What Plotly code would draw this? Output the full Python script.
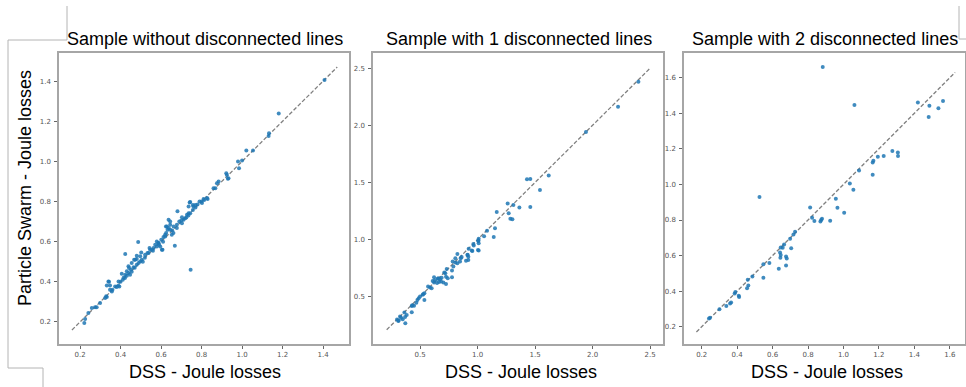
import plotly.graph_objects as go

W, H = 966, 387

# panel titles and axis labels
titles = ["Sample without disconnected lines", "Sample with 1 disconnected lines", "Sample with 2 disconnected lines"]
x_label = "DSS - Joule losses"
y_label = "Particle Swarm - Joule losses"

# sample without disconnected lines
dss_0 = [1.407, 1.181, 1.133, 1.131, 1.054, 1.021, 1.0, 0.98, 0.985, 0.922, 0.93, 0.884, 0.876, 0.859, 0.83,
         0.81, 0.79, 0.78, 0.744, 0.757, 0.736, 0.736, 0.728, 0.703, 0.711, 0.681, 0.678, 0.662, 0.645, 0.637,
         0.624, 0.62, 0.612, 0.601, 0.587, 0.579, 0.563, 0.546, 0.538, 0.668, 0.746, 0.607, 0.487, 0.423, 0.497,
         0.48, 0.472, 0.455, 0.439, 0.431, 0.423, 0.406, 0.411, 0.39, 0.373, 0.348, 0.34, 0.332, 0.329, 0.299,
         0.282, 0.258, 0.241, 0.225, 0.221,
         0.274, 0.324, 0.332, 0.348, 0.357, 0.343, 0.389, 0.381, 0.394, 0.422, 0.431, 0.439, 0.447, 0.442, 0.451,
         0.464, 0.467, 0.48, 0.489, 0.497, 0.505, 0.48, 0.502, 0.521, 0.533, 0.555, 0.543, 0.571, 0.587, 0.596,
         0.604, 0.579, 0.62, 0.625, 0.632, 0.638, 0.645, 0.645, 0.629, 0.653, 0.661, 0.678, 0.703, 0.719, 0.741,
         0.744, 0.757, 0.76, 0.769, 0.802, 0.813, 0.827, 0.868, 0.933, 0.925,
         0.36, 0.40, 0.415, 0.455, 0.47, 0.51, 0.52, 0.56, 0.59, 0.61, 0.655, 0.69, 0.70, 0.725, 0.735, 0.77, 0.80]
pso_0 = [1.405, 1.239, 1.14, 1.127, 1.054, 1.054, 1.004, 0.999, 0.966, 0.941, 0.913, 0.9, 0.891, 0.866, 0.812,
         0.812, 0.8, 0.785, 0.797, 0.783, 0.775, 0.742, 0.734, 0.722, 0.709, 0.752, 0.684, 0.676, 0.659, 0.709,
         0.676, 0.634, 0.623, 0.609, 0.593, 0.576, 0.568, 0.56, 0.543, 0.58, 0.46, 0.56, 0.598, 0.538, 0.527,
         0.513, 0.51, 0.493, 0.477, 0.452, 0.435, 0.44, 0.41, 0.402, 0.377, 0.381, 0.402, 0.382, 0.328, 0.294,
         0.273, 0.27, 0.245, 0.215, 0.195,
         0.273, 0.319, 0.324, 0.36, 0.352, 0.4, 0.38, 0.374, 0.377, 0.419, 0.43, 0.444, 0.435, 0.469, 0.46,
         0.473, 0.51, 0.485, 0.493, 0.501, 0.51, 0.53, 0.546, 0.535, 0.543, 0.56, 0.568, 0.584, 0.593, 0.576,
         0.56, 0.601, 0.626, 0.643, 0.659, 0.668, 0.684, 0.7, 0.675, 0.634, 0.643, 0.668, 0.692, 0.717, 0.795,
         0.742, 0.758, 0.775, 0.783, 0.792, 0.808, 0.817, 0.866, 0.916, 0.932,
         0.36, 0.40, 0.42, 0.45, 0.47, 0.50, 0.52, 0.555, 0.585, 0.60, 0.655, 0.70, 0.705, 0.72, 0.73, 0.77, 0.80]

# sample with 1 disconnected line
dss_1 = [2.399, 2.222, 1.943, 1.619, 1.459, 1.43, 1.543, 1.459, 1.364, 1.167, 1.262, 1.312, 1.271, 1.286, 1.303,
         1.152, 1.141, 1.083, 1.057, 1.01, 1.007, 1.01, 1.004, 1.01, 0.967, 0.955, 0.923, 0.912, 0.92, 0.92,
         0.9, 0.854, 0.848, 0.825, 0.825, 0.807, 0.807, 0.784, 0.79, 0.778, 0.778, 0.732, 0.72, 0.726, 0.703,
         0.726, 0.688, 0.674, 0.665, 0.654, 0.648, 0.63, 0.622, 0.61, 0.622, 0.601, 0.57, 0.538, 0.523, 0.538,
         0.5, 0.488, 0.477, 0.468, 0.448, 0.428, 0.428, 0.384, 0.37, 0.364, 0.372, 0.349, 0.326, 0.314, 0.3,
         0.311, 0.335, 0.433, 0.529, 0.587, 0.659, 0.683, 0.711, 0.741, 0.862, 0.914, 0.95, 0.964, 1.007]
pso_1 = [2.383, 2.164, 1.942, 1.56, 1.531, 1.528, 1.434, 1.285, 1.28, 1.242, 1.315, 1.303, 1.23, 1.183, 1.177,
         1.099, 1.023, 1.078, 1.028, 1.008, 0.988, 0.967, 0.909, 0.903, 0.947, 0.9, 0.92, 0.865, 0.85, 0.82,
         0.815, 0.836, 0.807, 0.874, 0.792, 0.798, 0.836, 0.807, 0.763, 0.728, 0.669, 0.743, 0.704, 0.675, 0.623,
         0.611, 0.666, 0.652, 0.629, 0.657, 0.62, 0.644, 0.623, 0.637, 0.669, 0.573, 0.588, 0.529, 0.517, 0.471,
         0.5, 0.486, 0.471, 0.447, 0.421, 0.418, 0.363, 0.339, 0.322, 0.36, 0.266, 0.301, 0.325, 0.29, 0.3,
         0.287, 0.316, 0.425, 0.524, 0.579, 0.661, 0.632, 0.711, 0.661, 0.846, 0.866, 0.904, 0.96, 0.991]

# sample with 2 disconnected lines
dss_2 = [0.883, 1.062, 1.42, 1.485, 1.562, 1.536, 1.481, 1.276, 1.307, 1.308, 1.227, 1.194, 1.169, 1.165, 1.165,
         1.088, 1.036, 1.056, 0.957, 0.966, 1.004, 0.925, 0.812, 0.823, 0.836, 0.874, 0.879, 0.87, 0.526, 0.727,
         0.718, 0.699, 0.705, 0.665, 0.657, 0.646, 0.642, 0.646, 0.644, 0.676, 0.68, 0.676, 0.635, 0.582, 0.548,
         0.548, 0.486, 0.46, 0.463, 0.456, 0.39, 0.386, 0.409, 0.411, 0.366, 0.36, 0.339, 0.3, 0.247, 0.241]
pso_2 = [1.66, 1.446, 1.461, 1.443, 1.469, 1.429, 1.379, 1.188, 1.18, 1.16, 1.16, 1.156, 1.133, 1.124, 1.055,
         1.079, 1.006, 0.97, 0.92, 0.869, 0.841, 0.796, 0.871, 0.813, 0.794, 0.8, 0.807, 0.792, 0.929, 0.734,
         0.719, 0.695, 0.642, 0.663, 0.644, 0.646, 0.618, 0.603, 0.588, 0.595, 0.584, 0.545, 0.526, 0.558, 0.551,
         0.476, 0.483, 0.464, 0.432, 0.416, 0.395, 0.387, 0.374, 0.367, 0.337, 0.331, 0.316, 0.298, 0.251, 0.247]

# y = x reference segments
diag_0 = [0.16, 1.47]
diag_1 = [0.21, 2.5]
diag_2 = [0.17, 1.63]

panels = [(dss_0, pso_0, diag_0), (dss_1, pso_1, diag_1), (dss_2, pso_2, diag_2)]
x_ranges = [[0.096, 1.528], [0.091, 2.613], [0.10, 1.686]]
y_ranges = [[0.09, 1.54], [0.085, 2.634], [0.103, 1.739]]
x_ticks = [[0.2, 0.4, 0.6, 0.8, 1.0, 1.2, 1.4], [0.5, 1.0, 1.5, 2.0, 2.5], [0.2, 0.4, 0.6, 0.8, 1.0, 1.2, 1.4, 1.6]]
y_ticks = [[0.2, 0.4, 0.6, 0.8, 1.0, 1.2, 1.4], [0.5, 1.0, 1.5, 2.0, 2.5], [0.2, 0.4, 0.6, 0.8, 1.0, 1.2, 1.4, 1.6]]

# pixel boxes of the three plot areas
x_px = [(59, 349), (373, 663), (684, 965)]
y_px = (53, 344)


def fx(p):
    return p / W


def fy(p):
    return 1 - p / H


fig = go.Figure()
layout = {}
for i, (xs, ys, dg) in enumerate(panels):
    n = "" if i == 0 else str(i + 1)
    fig.add_trace(go.Scatter(x=dg, y=dg, mode="lines", xaxis="x" + n, yaxis="y" + n,
                             line=dict(color="#808080", width=1.3, dash="4px,2px"), showlegend=False))
    fig.add_trace(go.Scatter(x=xs, y=ys, mode="markers", xaxis="x" + n, yaxis="y" + n,
                             marker=dict(color="#1f77b4", size=4, opacity=0.85), showlegend=False))
    ax = dict(showgrid=False, zeroline=False, showline=True, mirror=True, linecolor="#a6a6a6", linewidth=1.5,
              ticks="outside", ticklen=3, tickcolor="#666", tickwidth=1,
              tickfont=dict(family="DejaVu Sans", size=7, color="#555"), tickformat=".1f")
    layout["xaxis" + n] = dict(ax, domain=[fx(x_px[i][0]), fx(x_px[i][1])], range=x_ranges[i],
                               tickvals=x_ticks[i], anchor="y" + n)
    layout["yaxis" + n] = dict(ax, domain=[fy(y_px[1]), fy(y_px[0])], range=y_ranges[i],
                               tickvals=y_ticks[i], anchor="x" + n, ticklabelstandoff=2)

fig.update_layout(**layout)

font = dict(family="Liberation Sans, Arial", size=18, color="black")
annotations = []
title_x = [205, 519, 825]
label_x = [205, 521, 827]
for i in range(3):
    annotations.append(dict(text=titles[i], x=fx(title_x[i]), y=fy(39), xref="paper", yref="paper",
                            xanchor="center", yanchor="middle", showarrow=False, font=font))
    annotations.append(dict(text=x_label, x=fx(label_x[i]), y=fy(372), xref="paper", yref="paper",
                            xanchor="center", yanchor="middle", showarrow=False, font=font))
annotations.append(dict(text=y_label, x=fx(25), y=fy(188), xref="paper", yref="paper", textangle=-90,
                        xanchor="center", yanchor="middle", showarrow=False, font=font))

# thin grey bracket lines around the figure
br = dict(type="line", xref="paper", yref="paper", line=dict(color="#b4b4b4", width=1))
segments = [(67, 6, 67, 40), (8, 40, 67, 40), (8, 40, 8, 368), (8, 368, 43, 368), (43, 368, 43, 387),
            (959, 6, 959, 39), (959, 39, 966, 39)]
shapes = [dict(br, x0=fx(a), y0=fy(b), x1=fx(c), y1=fy(d)) for a, b, c, d in segments]

fig.update_layout(width=W, height=H, margin=dict(l=0, r=0, t=0, b=0), paper_bgcolor="white",
                  plot_bgcolor="white", annotations=annotations, shapes=shapes)

# drop the default page margin so the figure sits at the window corner
fig.write_html("out.html", config={"displayModeBar": False},
               post_script="document.body.style.margin='0';document.body.style.overflow='hidden';")
